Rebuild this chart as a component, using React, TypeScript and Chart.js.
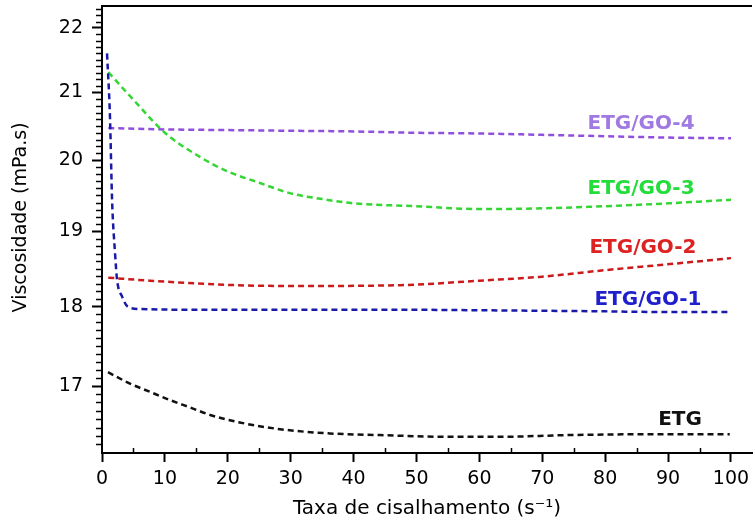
import React, { useEffect, useRef } from "react";
import { Chart, registerables } from "chart.js";

Chart.register(...registerables);

// ---- data ----
const etgX = [0.95, 4.45, 7.6, 10.8, 14, 17.2, 21.9, 28.3, 36.2, 44.2, 55.3, 63.3, 73.9, 87.1, 99.8];
const etgY = [17.17, 17.03, 16.93, 16.83, 16.74, 16.65, 16.56, 16.48, 16.43, 16.41, 16.39, 16.39, 16.41, 16.42, 16.42];

const go1X = [0.8, 1.27, 1.6, 2.07, 2.4, 3.2, 4.1, 6.0, 15.6, 30, 47.4, 65, 79.2, 90, 100];
const go1Y = [21.6, 20.63, 19.44, 18.71, 18.35, 18.13, 18.0, 17.97, 17.96, 17.96, 17.96, 17.95, 17.94, 17.93, 17.93];

const go2X = [1, 7.6, 21.5, 31.5, 47.4, 60, 69.6, 80, 90.3, 100];
const go2Y = [18.38, 18.34, 18.28, 18.27, 18.28, 18.34, 18.39, 18.48, 18.56, 18.64];

const go3X = [1, 5, 10, 15, 20, 25, 30, 35, 40, 50, 60, 70, 80, 90, 100];
const go3Y = [21.31, 20.89, 20.4, 20.08, 19.84, 19.68, 19.53, 19.45, 19.39, 19.35, 19.31, 19.32, 19.35, 19.39, 19.44];

const go4X = [1, 10, 20, 30, 40, 50, 60, 70, 80, 90, 100];
const go4Y = [20.47, 20.45, 20.44, 20.43, 20.42, 20.4, 20.39, 20.37, 20.35, 20.33, 20.32];

const seriesNames = ["ETG", "ETG/GO-1", "ETG/GO-2", "ETG/GO-3", "ETG/GO-4"];
const seriesColors = ["#111111", "#1a1aa8", "#cc1a1a", "#33d633", "#9050dc"];

const xMajorTicks = [0, 10, 20, 30, 40, 50, 60, 70, 80, 90, 100];
const xMinorTicks = [5, 15, 25, 35, 45, 55, 65, 75, 85, 95];
const yMajorTicks = [17, 18, 19, 20, 21, 22];

// in-plot series labels (data coordinates)
const labelTexts = ["ETG/GO-4", "ETG/GO-3", "ETG/GO-2", "ETG/GO-1", "ETG"];
const labelXs = [85.7, 85.7, 86.0, 86.8, 91.9];
const labelYs = [20.54, 19.59, 18.78, 18.09, 16.59];
const labelColors = ["#a07ae2", "#22dd3a", "#dd2222", "#1f1fcc", "#111111"];

const xTitle = "Taxa de cisalhamento (s\u207B\u00B9)";
const yTitle = "    Viscosidade (mPa.s)";

const FONT = "'DejaVu Sans', sans-serif";

function toPoints(xs: number[], ys: number[]) {
  return xs.map((x, i) => ({ x, y: ys[i] }));
}

const decorPlugin = {
  id: "decor",
  afterDraw(chart: any) {
    const { ctx, chartArea } = chart;
    const xs = chart.scales.x;
    const ys = chart.scales.y;
    ctx.save();
    ctx.strokeStyle = "#000";
    // top frame line
    ctx.lineWidth = 2;
    ctx.beginPath();
    ctx.moveTo(chartArea.left - 1, chartArea.top);
    ctx.lineTo(chartArea.right, chartArea.top);
    ctx.stroke();
    // y minor ticks
    ctx.lineWidth = 1.5;
    for (let k = 163; k <= 223; k++) {
      if (k % 10 === 0) continue;
      const v = k / 10;
      if (v < ys.min || v > ys.max) continue;
      const py = Math.round(ys.getPixelForValue(v)) + 0.5;
      ctx.beginPath();
      ctx.moveTo(chartArea.left - 6, py);
      ctx.lineTo(chartArea.left, py);
      ctx.stroke();
    }
    // x minor ticks (inward)
    for (const v of xMinorTicks) {
      const px = Math.round(xs.getPixelForValue(v)) + 0.5;
      ctx.beginPath();
      ctx.moveTo(px, chartArea.bottom);
      ctx.lineTo(px, chartArea.bottom - 5);
      ctx.stroke();
    }
    // series labels
    ctx.font = `bold 20px ${FONT}`;
    ctx.textAlign = "center";
    ctx.textBaseline = "middle";
    labelTexts.forEach((t, i) => {
      ctx.fillStyle = labelColors[i];
      ctx.fillText(t, xs.getPixelForValue(labelXs[i]), ys.getPixelForValue(labelYs[i]));
    });
    ctx.restore();
  },
};

export default function App() {
  const ref = useRef<HTMLCanvasElement | null>(null);

  useEffect(() => {
    if (!ref.current) return;
    const seriesX = [etgX, go1X, go2X, go3X, go4X];
    const seriesY = [etgY, go1Y, go2Y, go3Y, go4Y];
    const chart = new Chart(ref.current, {
      type: "line",
      data: {
        datasets: seriesNames.map((name, i) => ({
          label: name,
          data: toPoints(seriesX[i], seriesY[i]),
          borderColor: seriesColors[i],
          backgroundColor: seriesColors[i],
          borderWidth: 2.5,
          borderDash: [6, 4],
          pointRadius: 0,
          fill: false,
          cubicInterpolationMode: "monotone" as const,
        })),
      },
      options: {
        responsive: false,
        animation: false,
        layout: { padding: { top: 6, right: 1, left: 0, bottom: 0 } },
        plugins: {
          legend: { display: false },
          tooltip: { enabled: false },
        },
        scales: {
          x: {
            type: "linear",
            min: 0,
            max: 103.34,
            afterBuildTicks: (s: any) => {
              s.ticks = xMajorTicks.map((v) => ({ value: v }));
            },
            afterFit: (s: any) => {
              s.height = 68;
              s.paddingLeft = 0;
              s.paddingRight = 0;
            },
            grid: {
              drawOnChartArea: false,
              drawTicks: true,
              tickLength: 9,
              tickWidth: 2,
              tickColor: "#000",
            },
            border: { display: true, color: "#000", width: 2 },
            ticks: {
              color: "#000",
              padding: 6,
              maxRotation: 0,
              font: { family: FONT, size: 19 },
              callback: (v: any) => String(v),
            },
            title: {
              display: true,
              text: xTitle,
              color: "#000",
              font: { family: FONT, size: 20 },
              padding: { top: 0, bottom: 0 },
            },
          },
          y: {
            type: "logarithmic",
            min: 16.2,
            max: 22.35,
            afterBuildTicks: (s: any) => {
              s.ticks = yMajorTicks.map((v) => ({ value: v }));
            },
            afterFit: (s: any) => {
              s.width = 102;
              s.paddingTop = 0;
              s.paddingBottom = 0;
            },
            grid: {
              drawOnChartArea: false,
              drawTicks: true,
              tickLength: 10,
              tickWidth: 2,
              tickColor: "#000",
            },
            border: { display: true, color: "#000", width: 2 },
            ticks: {
              color: "#000",
              padding: 9,
              font: { family: FONT, size: 19 },
              callback: (v: any) => String(v),
            },
            title: {
              display: true,
              text: yTitle,
              color: "#000",
              font: { family: FONT, size: 19 },
              padding: { top: 10, bottom: 0 },
            },
          },
        },
      },
      plugins: [decorPlugin],
    } as any);
    return () => chart.destroy();
  }, []);

  return (
    <div style={{ position: "fixed", left: 0, top: 0, width: 753, height: 521, background: "#fff" }}>
      <canvas ref={ref} width={753} height={521} style={{ display: "block" }} />
    </div>
  );
}
